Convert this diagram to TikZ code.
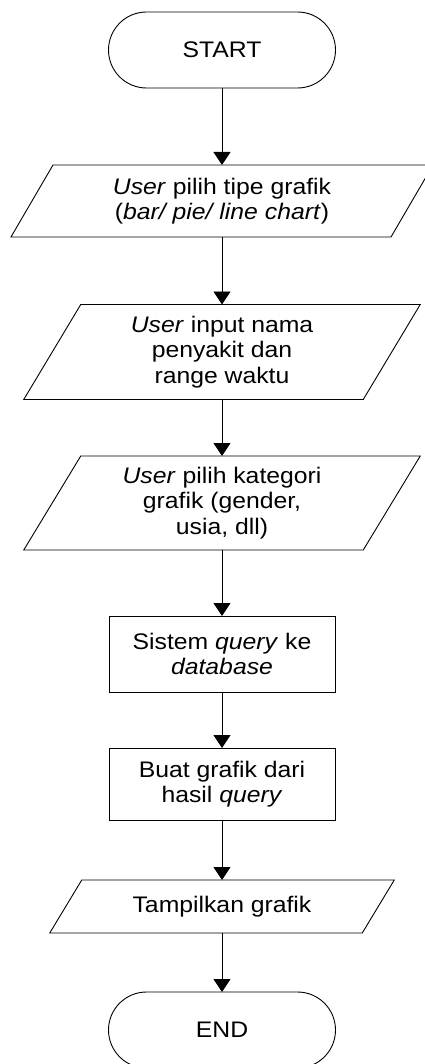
\documentclass[tikz,border=0pt]{standalone}
\usepackage{fontspec}
\setmainfont[FakeStretch=1.1]{Liberation Sans}
\usetikzlibrary{arrows.meta}

\tikzset{
  flowline/.style={line width=0.9pt, draw=black},
  flowarrow/.style={flowline, -{Triangle[length=13pt,width=17pt]}},
  termbox/.style={draw, line width=0.9pt, rounded corners=38pt, inner sep=0pt, outer sep=0pt,
    minimum width=227pt, minimum height=76pt, align=center, font=\fontsize{22.5}{25.5}\selectfont},
  procbox/.style={draw, line width=0.9pt, inner sep=0pt, outer sep=0pt,
    minimum width=226pt, align=center, font=\fontsize{22.5}{25.5}\selectfont},
  iobody/.style={inner sep=0pt, outer sep=0pt, align=center, font=\fontsize{22.5}{25.5}\selectfont},
}

% outline of an input/output parallelogram around a body node
\newcommand\ioshape[2]{%
  \draw[flowline] ([xshift=#2pt]#1.north west) -- ([xshift=#2pt]#1.north east)
    -- ([xshift=-#2pt]#1.south east) -- ([xshift=-#2pt]#1.south west) -- cycle;}

\begin{document}
\begin{tikzpicture}[x=1pt, y=-1pt]
  \useasboundingbox (0,0) rectangle (424,1064);

  \node[termbox] (start) at (222,50) {START};

  \node[iobody, minimum width=380pt, minimum height=72pt] (pilihtipe) at (222,201)
    {\fontsize{22.5}{17.7}\selectfont\textit{User} pilih tipe grafik\\(\textit{bar/ pie/ line chart})};
  \ioshape{pilihtipe}{21}

  \node[iobody, minimum width=339.5pt, minimum height=95pt] (inputnama) at (222,352)
    {\textit{User} input nama\\penyakit dan\\range waktu};
  \ioshape{inputnama}{28.5}

  \node[iobody, minimum width=339.5pt, minimum height=94pt] (kategori) at (222,503)
    {\textit{User} pilih kategori\\grafik (gender,\\usia, dll)};
  \ioshape{kategori}{28.5}

  \node[procbox, minimum height=76pt] (query) at (222,654)
    {Sistem \textit{query} ke\\\textit{database}};

  \node[procbox, minimum height=72pt] (buat) at (222,784)
    {Buat grafik dari\\hasil \textit{query}};

  \node[iobody, minimum width=312.5pt, minimum height=53pt] (tampil) at (222,906.5)
    {Tampilkan grafik};
  \ioshape{tampil}{16}

  \node[termbox] (end) at (222,1030) {END};

  \draw[flowarrow] (start.south) -- (pilihtipe.north);
  \draw[flowarrow] (pilihtipe.south) -- (inputnama.north);
  \draw[flowarrow] (inputnama.south) -- (kategori.north);
  \draw[flowarrow] (kategori.south) -- (query.north);
  \draw[flowarrow] (query.south) -- (buat.north);
  \draw[flowarrow] (buat.south) -- (tampil.north);
  \draw[flowarrow] (tampil.south) -- (end.north);
\end{tikzpicture}
\end{document}
